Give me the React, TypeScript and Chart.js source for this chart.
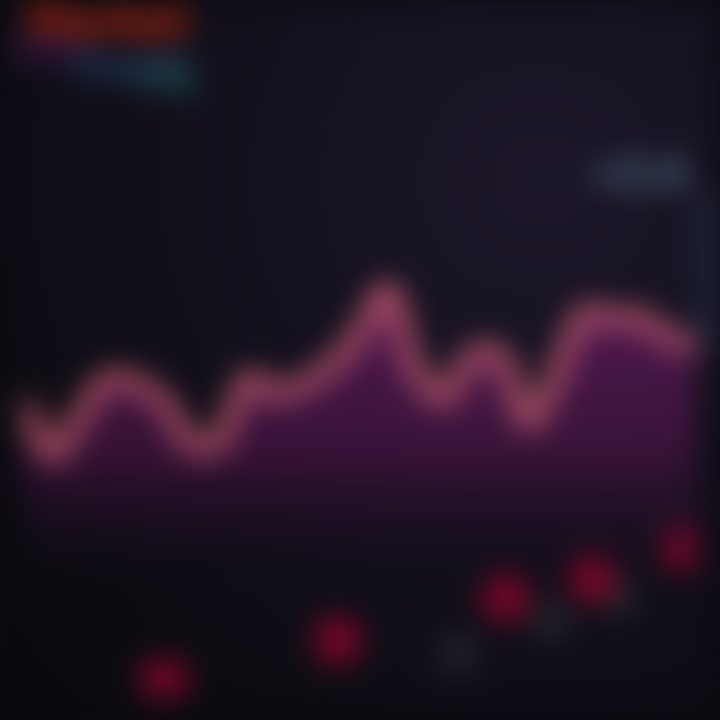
import React, { useEffect, useRef } from "react";
import { Chart, registerables } from "chart.js";

Chart.register(...registerables);

// Main series (index positions along the x axis)
const steps: number[] = [0, 1, 2, 3, 4, 5, 6, 7, 8, 9, 10, 11, 12, 13, 14, 15, 16, 17, 18, 19, 20, 21, 22, 23, 24];
const priceValues: number[] = [43.8, 36.1, 41.7, 47.2, 46.5, 43.8, 37.5, 38.2, 47.2, 45.1, 46.5, 49.3, 54.2, 60.4, 48.6, 44.4, 50.7, 50.7, 41.0, 47.9, 56.9, 56.3, 56.3, 53.5, 52.1];

// Lower markers
const redX: number[] = [5, 11.2, 17.2, 20.3, 23.6];
const redY: number[] = [2.1, 8.3, 14.6, 17.4, 22.0];
const grayX: number[] = [15.5, 18.8, 21.2];
const grayY: number[] = [6.3, 11.1, 14.6];

const legendLabels: string[] = ["Market", "Vol", "Trend", "Sig"];

export default function App() {
  const ref = useRef<HTMLCanvasElement | null>(null);

  useEffect(() => {
    document.body.style.margin = "0";
    document.body.style.background = "#0b0a10";
    const canvas = ref.current;
    if (!canvas) return;
    const ctx = canvas.getContext("2d")!;
    const grad = ctx.createLinearGradient(0, 300, 0, 580);
    grad.addColorStop(0, "rgba(120,30,110,0.6)");
    grad.addColorStop(0.55, "rgba(95,22,85,0.5)");
    grad.addColorStop(1, "rgba(30,15,40,0)");

    const chart = new Chart(canvas, {
      type: "line",
      data: {
        datasets: [
          {
            label: legendLabels[0],
            data: steps.map((s, i) => ({ x: s, y: priceValues[i] })),
            borderColor: "#e46a7e",
            borderWidth: 13,
            tension: 0.4,
            pointRadius: 0,
            fill: "start",
            backgroundColor: grad,
          },
          {
            type: "scatter",
            label: legendLabels[1],
            data: redX.map((x, i) => ({ x, y: redY[i] })),
            backgroundColor: "#7c0628",
            borderWidth: 0,
            pointRadius: 24,
          } as any,
          {
            type: "scatter",
            label: legendLabels[2],
            data: grayX.map((x, i) => ({ x, y: grayY[i] })),
            backgroundColor: "#24242c",
            borderWidth: 0,
            pointRadius: 20,
          } as any,
        ],
      },
      options: {
        animation: false,
        responsive: false,
        maintainAspectRatio: false,
        layout: { padding: 0 },
        plugins: { legend: { display: false }, tooltip: { enabled: false } },
        scales: {
          x: { type: "linear", display: false, min: 0, max: 24 },
          y: { display: false, min: 0, max: 100 },
        },
      },
    });
    return () => chart.destroy();
  }, []);

  return (
    <div style={{ position: "fixed", left: 0, top: 0, width: 720, height: 720, background: "#0b0a10", overflow: "hidden" }}>
      <div
        style={{
          position: "absolute",
          inset: 0,
          filter: "blur(15px)",
          background: "radial-gradient(ellipse at 75% 25%, #1c1628 0%, #120f1b 45%, #09090c 100%)",
        }}
      >
        <canvas ref={ref} width={720} height={720} style={{ position: "absolute", left: 0, top: 0 }} />
        <div style={{ position: "absolute", left: 26, top: -4, font: "900 44px 'DejaVu Sans'", color: "#b8280e", letterSpacing: -2 }}>{legendLabels[0]}</div>
        <div style={{ position: "absolute", left: 14, top: 30, font: "900 34px 'DejaVu Sans'", color: "#4e1a62" }}>{legendLabels[1]}</div>
        <div style={{ position: "absolute", left: 70, top: 46, font: "900 36px 'DejaVu Sans'", color: "#2e4e82" }}>{legendLabels[2]}</div>
        <div style={{ position: "absolute", left: 140, top: 58, font: "900 32px 'DejaVu Sans'", color: "#1e5e56" }}>{legendLabels[3]}</div>
        <div style={{ position: "absolute", left: 588, top: 150, font: "900 40px 'DejaVu Sans'", color: "#5a7e9c", letterSpacing: -2 }}>{"+2.4"}</div>
        <div style={{ position: "absolute", left: 702, top: 190, width: 12, height: 160, background: "#2a3652" }} />
      </div>
    </div>
  );
}
